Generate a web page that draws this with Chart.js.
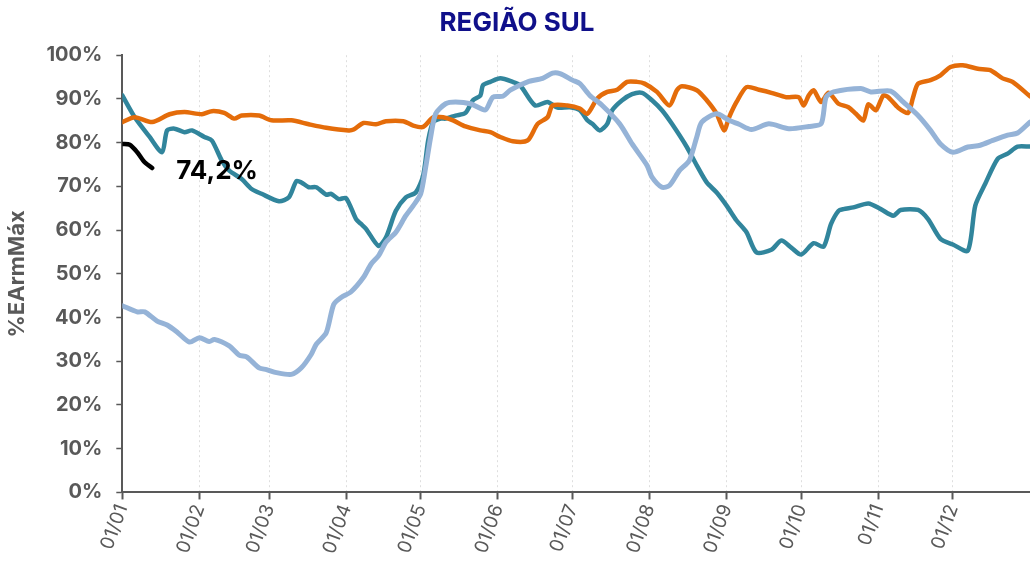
<!DOCTYPE html>
<html>
<head>
<meta charset="utf-8">
<script src="https://cdn.jsdelivr.net/npm/chart.js@4.4.0/dist/chart.umd.min.js"></script>
<style>
    html, body { margin: 0; padding: 0; background: #fff; }
    #wrap { width: 1030px; height: 565px; position: relative; }
</style>
</head>
<body>
<div id="wrap"><canvas id="chart"></canvas></div>
<script>
// Month ticks (day of year) and their labels
const monthStarts = [0, 31, 59, 90, 120, 151, 181, 212, 243, 273, 304, 334];
const monthLabels = ['01/01', '01/02', '01/03', '01/04', '01/05', '01/06', '01/07', '01/08', '01/09', '01/10', '01/11', '01/12'];

// Light blue series
const lbDays = [0, 6, 9, 14, 18, 22, 27, 31, 35, 37, 43, 47, 50, 55, 58, 62, 68, 72, 76, 78, 82, 85, 88, 92, 97, 100, 103, 106, 110, 114, 117, 120, 122, 124, 126, 130, 134, 140, 146, 149, 153, 156, 163, 169, 173, 176, 181, 184, 188, 193, 200, 205, 211, 213, 217, 220, 224, 228, 231, 233, 239, 244, 248, 253, 260, 268, 276, 281, 283, 286, 297, 301, 309, 314, 320, 325, 329, 334, 340, 345, 350, 356, 360, 365];
const lbVals = [42.7, 41.3, 41.3, 39.2, 38.3, 36.7, 34.4, 35.4, 34.5, 35.0, 33.5, 31.4, 31.0, 28.5, 28.1, 27.4, 27.0, 28.5, 31.6, 33.9, 36.5, 43.0, 44.6, 45.9, 49.2, 52.2, 54.1, 57.2, 59.5, 63.3, 65.6, 68.3, 74.4, 81.3, 86.6, 88.9, 89.3, 88.9, 87.5, 90.4, 90.6, 92.0, 93.9, 94.7, 95.9, 95.8, 94.3, 93.5, 90.8, 88.5, 84.3, 79.7, 74.8, 72.1, 69.8, 70.2, 73.6, 75.9, 81.3, 84.7, 86.6, 85.1, 84.2, 83.0, 84.3, 83.2, 83.7, 84.3, 90.4, 91.6, 92.4, 91.6, 91.8, 89.3, 86.2, 82.8, 79.7, 77.8, 79.0, 79.4, 80.5, 81.7, 82.2, 84.7];

// Orange series
const orDays = [0, 5, 12, 19, 25, 32, 36, 41, 45, 48, 55, 60, 68, 75, 82, 91, 93, 97, 102, 106, 113, 117, 121, 125, 129, 133, 138, 144, 148, 152, 157, 163, 167, 171, 173, 179, 184, 187, 191, 195, 199, 203, 207, 210, 215, 220, 223, 225, 231, 235, 239, 242, 244, 247, 251, 256, 261, 267, 272, 274, 276, 278, 281, 284, 288, 292, 295, 298, 300, 303, 306, 308, 312, 316, 318, 320, 325, 329, 333, 338, 344, 349, 354, 358, 365];
const orVals = [84.7, 85.8, 84.7, 86.5, 87.0, 86.5, 87.2, 86.8, 85.5, 86.2, 86.2, 85.1, 85.1, 84.2, 83.4, 82.8, 83.0, 84.5, 84.2, 84.9, 84.9, 83.9, 83.6, 85.8, 85.8, 85.1, 83.7, 82.8, 82.4, 81.3, 80.3, 80.5, 84.3, 85.8, 88.5, 88.5, 87.8, 86.6, 90.1, 91.6, 92.1, 93.9, 93.9, 93.5, 91.6, 88.5, 92.0, 92.9, 92.0, 89.7, 86.6, 82.8, 85.8, 89.3, 92.7, 92.1, 91.4, 90.4, 90.4, 88.5, 90.8, 92.0, 89.3, 91.4, 88.9, 88.1, 86.6, 85.1, 88.8, 87.4, 90.8, 90.4, 88.0, 86.8, 90.4, 93.5, 94.3, 95.4, 97.3, 97.7, 96.9, 96.6, 94.7, 93.9, 90.6];

// Teal series
const tlDays = [0, 5, 11, 16, 18, 21, 25, 28, 33, 36, 40, 43, 48, 52, 56, 63, 67, 70, 72, 75, 78, 82, 84, 87, 90, 94, 96, 98, 103, 106, 110, 114, 118, 121, 123, 125, 128, 130, 134, 138, 141, 144, 145, 148, 152, 157, 160, 166, 171, 175, 180, 184, 187, 189, 192, 195, 197, 201, 205, 209, 213, 217, 221, 227, 231, 235, 239, 243, 247, 251, 255, 261, 265, 269, 273, 278, 282, 285, 288, 290, 294, 300, 305, 310, 313, 320, 324, 329, 334, 340, 343, 347, 352, 356, 360, 365];
const tlVals = [90.8, 85.8, 81.3, 77.8, 82.8, 83.2, 82.4, 82.8, 81.3, 80.5, 75.9, 73.6, 71.7, 69.4, 68.3, 66.6, 67.5, 71.2, 70.9, 69.8, 69.8, 68.1, 68.3, 67.1, 67.3, 62.5, 61.4, 60.3, 56.4, 58.3, 64.4, 67.5, 68.6, 72.5, 80.5, 84.7, 85.5, 85.5, 86.2, 86.8, 89.7, 90.8, 93.1, 93.9, 94.7, 93.9, 93.1, 88.5, 89.3, 88.0, 88.1, 87.4, 85.1, 84.3, 82.8, 84.3, 87.4, 89.7, 91.1, 91.4, 89.7, 87.4, 84.3, 79.0, 74.8, 70.9, 68.6, 65.6, 62.2, 59.5, 54.9, 55.5, 57.6, 56.0, 54.4, 57.0, 56.2, 61.4, 64.4, 64.8, 65.2, 66.1, 64.8, 63.3, 64.6, 64.6, 62.5, 58.0, 56.7, 55.3, 65.6, 70.6, 76.3, 77.5, 79.1, 79.1];

// Current year (black)
const curDays = [0, 3, 6, 9, 12];
const curVals = [79.7, 79.5, 77.8, 75.5, 74.2];
const curLabel = '74,2%';

function toPoints(days, vals) {
    return days.map((d, i) => ({ x: d, y: vals[i] }));
}

const gray = '#595959';

// Writes the last value next to the end of the black line
const endLabelPlugin = {
    id: 'endLabel',
    afterDatasetsDraw(chart) {
        const meta = chart.getDatasetMeta(3);
        const last = meta.data[meta.data.length - 1];
        const ctx = chart.ctx;
        ctx.save();
        ctx.font = 'bold 26px Inter';
        ctx.fillStyle = '#000';
        ctx.textAlign = 'left';
        ctx.textBaseline = 'middle';
        ctx.fillText(curLabel, last.x + 24, last.y + 3);
        ctx.restore();
    }
};

const lineStyle = {
    pointRadius: 0,
    borderWidth: 4.5,
    tension: 0.25,
    fill: false,
    borderCapStyle: 'round',
    borderJoinStyle: 'round'
};

new Chart(document.getElementById('chart'), {
    type: 'line',
    data: {
        datasets: [
            { ...lineStyle, label: 'A', data: toPoints(lbDays, lbVals), borderColor: '#95b3d7', borderWidth: 5 },
            { ...lineStyle, label: 'B', data: toPoints(orDays, orVals), borderColor: '#e46c0a' },
            { ...lineStyle, label: 'C', data: toPoints(tlDays, tlVals), borderColor: '#31859c' },
            { ...lineStyle, label: 'D', data: toPoints(curDays, curVals), borderColor: '#000000' }
        ]
    },
    options: {
        responsive: true,
        maintainAspectRatio: false,
        animation: false,
        devicePixelRatio: 1,
        layout: { padding: { left: 4, right: 0, top: 0, bottom: 6 } },
        plugins: {
            legend: { display: false },
            tooltip: { enabled: false },
            title: {
                display: true,
                text: 'REGIÃO SUL',
                color: '#10108a',
                font: { family: 'Inter', size: 26, weight: 'bold' },
                padding: { top: 8, bottom: 16 }
            }
        },
        scales: {
            x: {
                type: 'linear',
                min: 0,
                max: 365,
                afterBuildTicks: (axis) => {
                    axis.ticks = monthStarts.map(v => ({ value: v }));
                },
                ticks: {
                    color: gray,
                    font: { family: 'Inter', size: 19 },
                    minRotation: 70,
                    maxRotation: 70,
                    padding: 2,
                    autoSkip: false,
                    callback: (v) => monthLabels[monthStarts.indexOf(v)]
                },
                grid: {
                    color: '#dedede',
                    lineWidth: 1,
                    tickColor: gray,
                    tickLength: 7,
                    tickWidth: 2
                },
                border: { color: gray, width: 2, dash: [2, 3] }
            },
            y: {
                min: 0,
                max: 100,
                ticks: {
                    stepSize: 10,
                    color: gray,
                    font: { family: 'Inter', size: 20, weight: 'bold' },
                    padding: 14,
                    callback: (v) => v + '%'
                },
                grid: {
                    drawOnChartArea: false,
                    tickColor: gray,
                    tickLength: 6,
                    tickWidth: 1.5
                },
                border: { color: gray, width: 2 },
                title: {
                    display: true,
                    text: '%EArmMáx',
                    color: gray,
                    font: { family: 'Inter', size: 22, weight: 'bold' },
                    padding: { top: 0, bottom: 2 }
                }
            }
        }
    },
    plugins: [endLabelPlugin]
});
</script>
</body>
</html>
